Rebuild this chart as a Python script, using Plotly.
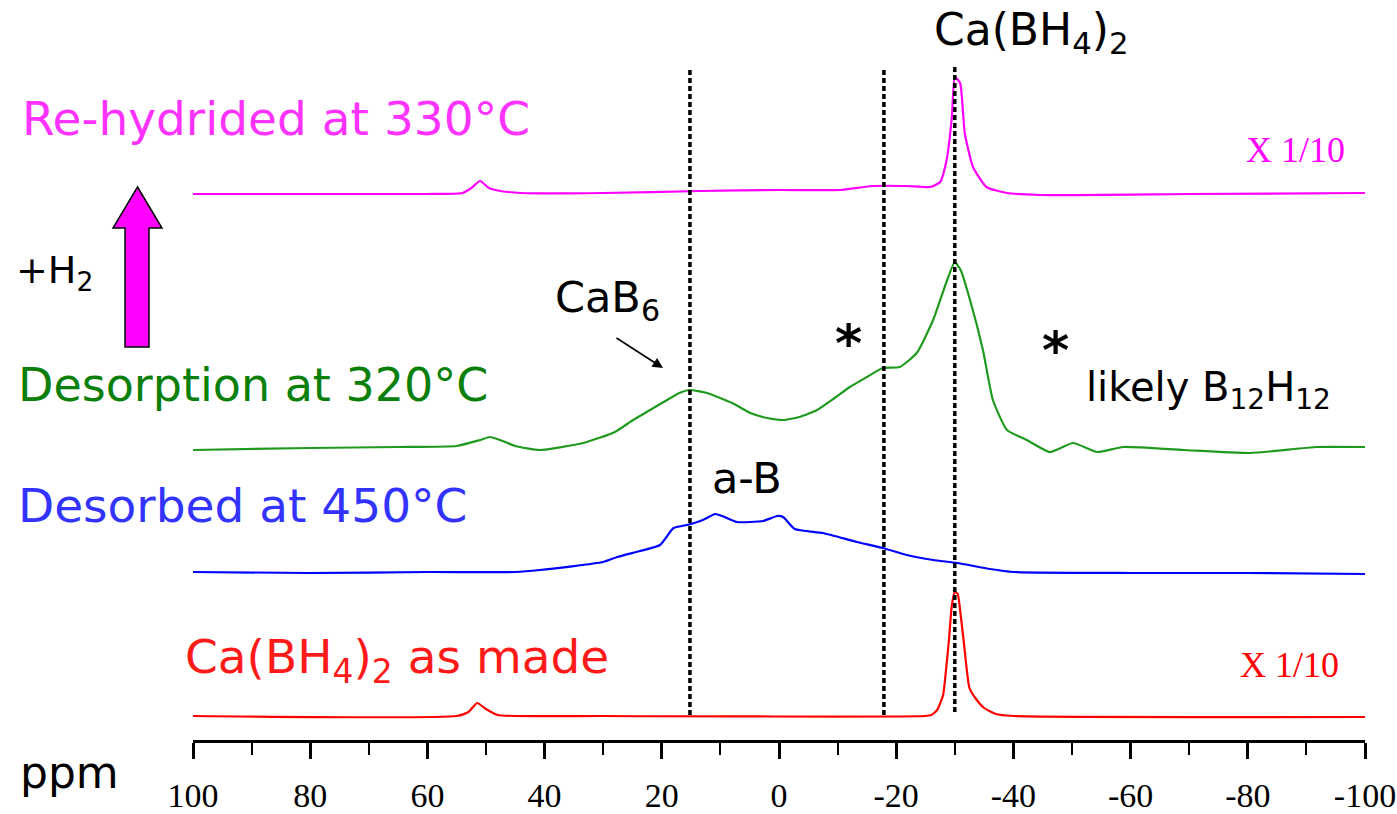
import plotly.graph_objects as go

# ---------------- data ----------------
# chemical shift in ppm; intensity = height above each trace's own baseline
ppm_red = [100, 55, 53, 51.5, 50, 48, 30, -25, -26, -27, -28, -28.5, -29, -29.5, -30, -30.5,
           -31, -31.5, -32.5, -33.5, -35, -37, -40, -100]
int_red = [0, 0, 4, 13, 7, 1, 0, 0, 1, 6, 21, 46, 76, 111, 124, 122,
           101, 76, 28, 18, 8, 2, 0, -1]

ppm_blue = [100, 80, 60, 45, 40.8, 30, 27.6, 23.7, 20.3, 18, 15.7, 13, 10.9, 9.7, 7.2, 2.7,
            0.3, -0.7, -2.7, -7.5, -13.3, -17.7, -21.8, -26.3, -30.4, -36, -40, -60, -80, -100]
int_blue = [0, -1, 0, 0, 2, 10, 15, 21, 27, 44, 47, 52, 58, 56, 50, 51,
            56, 55, 43, 39, 30, 24, 17, 12, 9, 3, 0, -1, -1, -2]

ppm_green = [100, 80, 65, 55, 51, 49.3, 47.6, 45, 40.8, 33.4, 28, 24.9, 22, 19.1, 17, 15.2,
             12.3, 8, 4.9, 2, -0.7, -3.5, -6.5, -9.5, -12.1, -15, -17.7, -20.6, -23.5, -26.3,
             -28.7, -30, -31, -32.6, -34.8, -36.5, -38.9, -42.3, -46.2, -50.2, -54.3, -58.7,
             -69, -80.4, -91.8, -100]
int_green = [0, 2, 3, 4, 10, 13, 10, 4, 0, 7, 18, 30, 40, 50, 57, 60,
             57, 47, 37, 32, 30, 33, 40, 52, 63, 73, 82, 83, 97, 130,
             170, 188, 180, 150, 100, 50, 20, 10, -2, 7, -2, 3,
             0, -3, 3, 3]

ppm_mag = [100, 60, 54, 52.5, 51, 49.5, 47.5, 44, 30, 13.5, 0, -10.4, -16, -21.8, -25.8,
           -27.5, -28.6, -29.5, -30, -30.9, -31.7, -33.1, -35.4, -38.9, -44.5, -70, -100]
int_mag = [0, 0, 1, 6, 13, 6, 3, 1, 1, 3, 4, 4, 8, 8, 7,
           12, 34, 77, 117, 111, 61, 27, 7, 1, -1, 0, 1]

# vertical placement of each spectrum (baseline height above the ppm axis)
offset_red, offset_blue, offset_green, offset_mag = 24, 168, 290, 546

# dashed reference lines (ppm) and their vertical extent
ref_ppm = [15.2, -17.9, -30.0]
ref_top = [670, 672, 675]
ref_bottom = [25, 25, 28]

x_ticks = [100, 80, 60, 40, 20, 0, -20, -40, -60, -80, -100]
x_tick_text = ["100", "80", "60", "40", "20", "0", "-20", "-40", "-60", "-80", "-100"]

# ---------------- figure ----------------
W, H = 1397, 814
L, R, T, B = 193, 32, 0, 74
PW, PH = W - L - R, H - T - B


def px(x):
    return (x - L) / PW


def py(y):
    return (H - B - y) / PH


fig = go.Figure()

for xs, ys, off, col in [
    (ppm_red, int_red, offset_red, "#ff0000"),
    (ppm_blue, int_blue, offset_blue, "#0000ff"),
    (ppm_green, int_green, offset_green, "#1f9a1f"),
    (ppm_mag, int_mag, offset_mag, "#ff00ff"),
]:
    fig.add_trace(go.Scatter(x=xs, y=[v + off for v in ys], mode="lines",
                             line=dict(color=col, width=2.2, shape="spline", smoothing=0.5),
                             showlegend=False, hoverinfo="skip"))

for xv, t, b in zip(ref_ppm, ref_top, ref_bottom):
    fig.add_trace(go.Scatter(x=[xv, xv], y=[b, t], mode="lines",
                             line=dict(color="black", width=3.5, dash="5px,3px"),
                             showlegend=False, hoverinfo="skip"))

SANS = "DejaVu Sans, Arial, sans-serif"
SERIF = "Liberation Serif, Times New Roman, serif"

ann = []


def txt(text, x, y, size, color="black", xanchor="left", family=SANS, yanchor="middle"):
    ann.append(dict(text=text, x=px(x), y=py(y), xref="paper", yref="paper",
                    xanchor=xanchor, yanchor=yanchor, showarrow=False,
                    font=dict(family=family, size=size, color=color)))


txt("Ca(BH<sub>4</sub>)<sub>2</sub>", 1031, 32, 44, xanchor="center")
txt("Re-hydrided at 330°C", 20, 118, 47, "#ff33ff")
txt("+H<sub>2</sub>", 14, 272, 38)
txt("CaB<sub>6</sub>", 553, 300, 43)
txt("<b>*</b>", 848, 343, 52, xanchor="center")
txt("<b>*</b>", 1055, 350, 52, xanchor="center")
txt("likely B<sub>12</sub>H<sub>12</sub>", 1084, 390, 40)
txt("Desorption at 320°C", 16, 385, 46, "#0a800a")
txt("a-B", 710, 478, 43)
txt("Desorbed at 450°C", 16, 505, 47, "#3333ff")
txt("Ca(BH<sub>4</sub>)<sub>2</sub> as made", 183, 660, 47, "#ff1a1a")
txt("X 1/10", 1295, 150, 36, "#ff00ff", xanchor="center", family=SERIF)
txt("X 1/10", 1289, 665, 36, "#ff0000", xanchor="center", family=SERIF)
txt("ppm", 18, 772, 44)

# small arrow pointing at CaB6 peak
ann.append(dict(text="", x=px(663), y=py(368), xref="paper", yref="paper",
                ax=-48, ay=-31, showarrow=True, arrowhead=2, arrowsize=1.3,
                arrowwidth=1.6, arrowcolor="black"))

# block arrow (+H2)
pts = [(137.5, 187), (162, 228), (149, 228), (149, 347), (125, 347), (125, 228), (113, 228)]
path = "M " + " L ".join(f"{px(a):.5f},{py(b):.5f}" for a, b in pts) + " Z"
shapes = [dict(type="path", path=path, xref="paper", yref="paper",
               fillcolor="#ff00ff", line=dict(color="black", width=1.5))]

fig.update_layout(
    width=W, height=H,
    margin=dict(l=L, r=R, t=T, b=B, pad=0, autoexpand=False),
    paper_bgcolor="white", plot_bgcolor="white",
    annotations=ann, shapes=shapes,
    xaxis=dict(range=[100, -100], tickmode="array", tickvals=x_ticks, ticktext=x_tick_text,
               ticks="outside", ticklen=16, tickwidth=2.5, tickcolor="black",
               showline=True, linewidth=3, linecolor="black", showgrid=False,
               zeroline=False, ticklabelstandoff=7, automargin=False,
               ticklabeloverflow="allow",
               tickfont=dict(family=SERIF, size=34, color="black"),
               minor=dict(dtick=10, tick0=0, ticks="outside", ticklen=12, tickwidth=1.5,
                          tickcolor="black", showgrid=False)),
    yaxis=dict(range=[0, PH], visible=False, showgrid=False, zeroline=False,
               automargin=False),
)

fig.write_html("out.html")
